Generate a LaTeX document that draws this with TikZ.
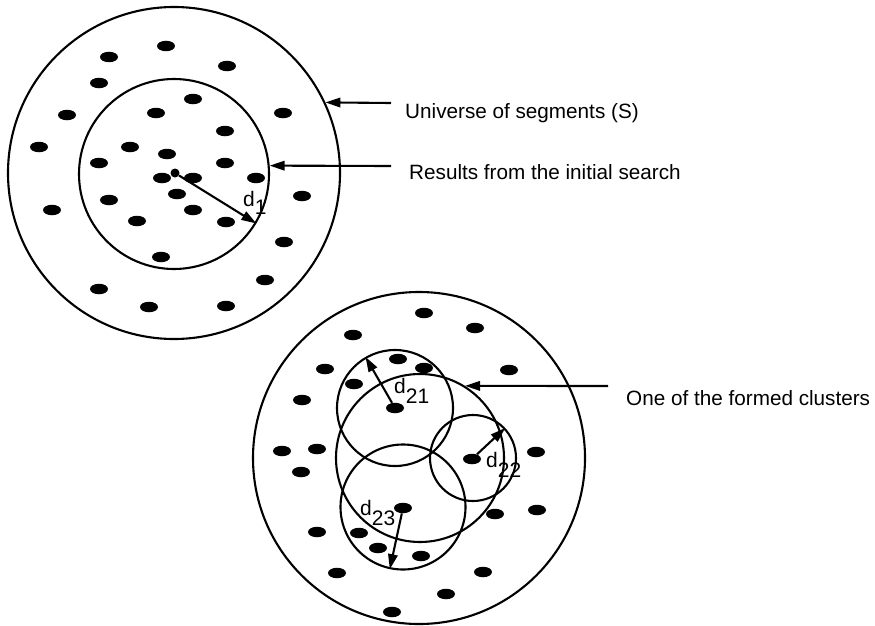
\documentclass[tikz,border=0pt]{standalone}
\usepackage{fontspec}
\setmainfont{Liberation Sans}
\usetikzlibrary{arrows.meta,shapes.geometric}

\begin{document}
\begin{tikzpicture}[x=1pt,y=-1pt,
    ring/.style={circle,draw,line width=2.1pt,inner sep=0pt},
    seg/.style={ellipse,fill,inner sep=0pt,minimum width=18pt,minimum height=10.5pt},
    ptr/.style={line width=2.1pt,-{Triangle[length=15pt,width=9.5pt]}},
    lbl/.style={anchor=base west,inner sep=0pt,font=\fontsize{20.7}{24}\selectfont},
    dlbl/.style={anchor=base west,inner sep=0pt,font=\fontsize{21}{24}\selectfont}]
    \useasboundingbox (0,0) rectangle (875,626);
    % top: universe and initial search
    \node[ring,minimum size=332pt] (universe) at (174,173) {};
    \node[ring,minimum size=190pt] (search) at (174,174) {};
    \node[seg] (s1) at (166,46) {};
    \node[seg] (s2) at (109,57) {};
    \node[seg] (s3) at (227,66) {};
    \node[seg] (s4) at (99,83) {};
    \node[seg] (s5) at (67,115) {};
    \node[seg] (s6) at (156,113) {};
    \node[seg] (s7) at (193,99) {};
    \node[seg] (s8) at (283,113) {};
    \node[seg] (s9) at (39,147) {};
    \node[seg] (s10) at (130,147) {};
    \node[seg] (s11) at (167,154) {};
    \node[seg] (s12) at (225,131) {};
    \node[seg] (s13) at (99,163) {};
    \node[seg] (s14) at (225,163) {};
    \node[seg] (s15) at (162,178) {};
    \node[seg] (s16) at (193,178) {};
    \node[seg] (s17) at (256,178) {};
    \node[seg] (s18) at (177,194) {};
    \node[seg] (s19) at (302,196) {};
    \node[seg] (s20) at (109,200) {};
    \node[seg] (s21) at (52,210) {};
    \node[seg] (s22) at (193,210) {};
    \node[seg] (s23) at (137,221) {};
    \node[seg] (s24) at (226,222) {};
    \node[seg] (s25) at (284,242) {};
    \node[seg] (s26) at (161,257) {};
    \node[seg] (s27) at (265,280) {};
    \node[seg] (s28) at (99,289) {};
    \node[seg] (s29) at (149,307) {};
    \node[seg] (s30) at (226,306) {};
    \node[circle,fill,inner sep=0pt,minimum size=9pt] (q0) at (175,173) {}; %query
    \draw[ptr] (q0) -- (search.-31);
    \node[dlbl] (d1) at (243,206) {d\raisebox{-8pt}{1}};
    \node[lbl] (univ) at (405,118) {Universe of segments (S)};
    \coordinate (univtail) at (391,103);
    \draw[ptr] (univtail) -- (universe.25);
    \node[lbl] (res) at (409,179) {Results from the initial search};
    \coordinate (restail) at (391,166);
    \draw[ptr] (restail) -- (search.5);
    % bottom: clusters
    \node[ring,minimum size=332pt] (universeb) at (419,458) {};
    \node[ring,minimum size=168pt] (cluster) at (420,458) {};
    \node[ring,minimum size=116pt] (c21) at (395,408) {};
    \node[ring,minimum size=86pt] (c22) at (473,458) {};
    \node[ring,minimum size=125pt] (c23) at (403,507) {};
    \node[seg] (t1) at (424,313) {};
    \node[seg] (t2) at (475,328) {};
    \node[seg] (t3) at (353,335) {};
    \node[seg] (t4) at (398,359) {};
    \node[seg] (t5) at (424,368) {};
    \node[seg] (t6) at (325,369) {};
    \node[seg] (t7) at (509,370) {};
    \node[seg] (t8) at (354,384) {};
    \node[seg] (m21) at (395,408) {};
    \node[seg] (t9) at (302,400) {};
    \node[seg] (t10) at (282,451) {};
    \node[seg] (t11) at (317,449) {};
    \node[seg] (t12) at (301,472) {};
    \node[seg] (m22) at (472,459) {};
    \node[seg] (t13) at (536,452) {};
    \node[seg] (m23) at (403,508) {};
    \node[seg] (t14) at (495,514) {};
    \node[seg] (t15) at (537,510) {};
    \node[seg] (t16) at (317,532) {};
    \node[seg] (t17) at (359,533) {};
    \node[seg] (t18) at (378,548) {};
    \node[seg] (t19) at (421,556) {};
    \node[seg] (t20) at (337,573) {};
    \node[seg] (t21) at (483,572) {};
    \node[seg] (t22) at (446,594) {};
    \node[seg] (t23) at (392,612) {};
    \draw[ptr] (m21) -- (c21.120);
    \draw[ptr] (m22) -- (c22.43);
    \draw[ptr] (m23) -- (c23.258);
    \node[dlbl] (d21) at (394,393) {d\raisebox{-10pt}{21}};
    \node[dlbl] (d22) at (486,467) {d\raisebox{-10pt}{22}};
    \node[dlbl] (d23) at (360,515) {d\raisebox{-10pt}{23}};
    \node[lbl] (clus) at (626,405) {One of the formed clusters};
    \coordinate (clustail) at (608,386);
    \draw[ptr] (clustail) -- (cluster.58);
\end{tikzpicture}
\end{document}
